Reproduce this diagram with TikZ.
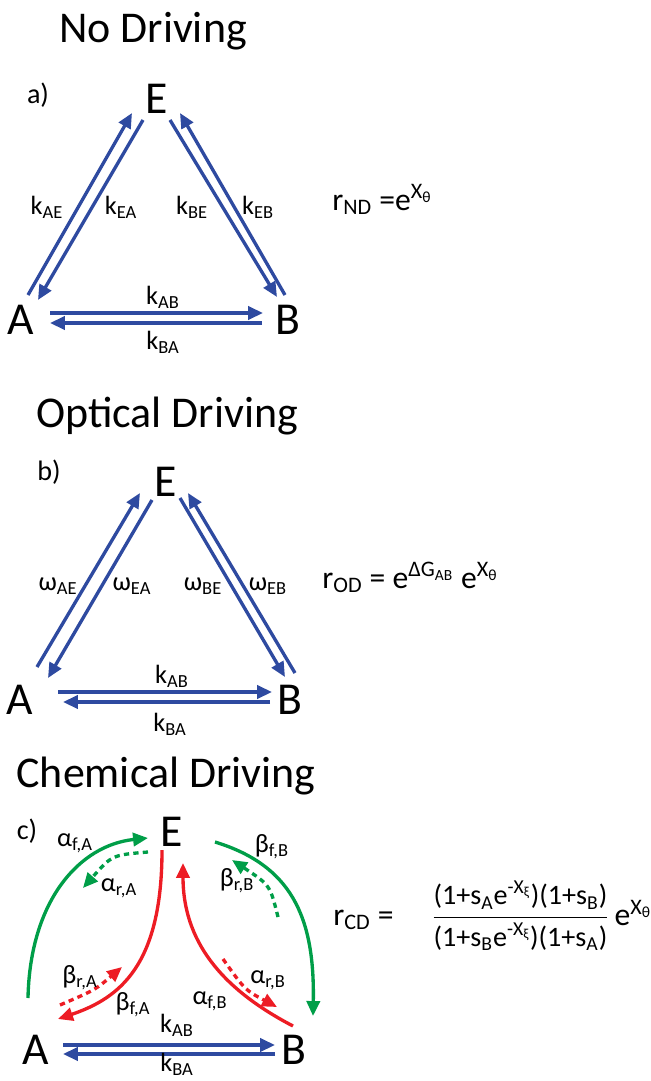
\documentclass[tikz,border=0pt]{standalone}
\usepackage{fontspec}
\setmainfont{Carlito}
\usetikzlibrary{arrows.meta,calc}

\definecolor{rateblue}{RGB}{46,74,160}
\definecolor{drivered}{RGB}{237,28,36}
\definecolor{drivegreen}{RGB}{0,158,72}

\tikzset{
  state/.style = {font=\fontsize{26}{29}\selectfont, inner sep=0pt},
  heading/.style = {font=\fontsize{25}{28}\selectfont, anchor=base},
  panel/.style = {font=\fontsize{16}{18}\selectfont, inner sep=0pt},
  rlabel/.style = {font=\fontsize{15}{17}\selectfont, inner sep=0pt},
  ratio/.style = {font=\fontsize{18}{21}\selectfont, inner sep=0pt},
  rate/.style = {rateblue, line width=1.9pt, -{Triangle[length=8.5pt,width=7.5pt]}},
  fwd/.style = {line width=1.9pt, -{Triangle[length=8.5pt,width=7.5pt]}},
  rev/.style = {fwd, dash pattern=on 3pt off 2.4pt},
}

\begin{document}
\begin{tikzpicture}[x=0.2mm, y=-0.2mm]
    \useasboundingbox (0,0) rectangle (650,1081);

    % a) No driving
    \node[heading] (titleA) at (153,43) {No Driving};
    \node[panel] (pa) at (38,95) {a)};
    \node[state] (A1) at (21,320) {A};
    \node[state] (B1) at (288,320) {B};
    \node[state] (E1) at (157,99) {E};
    % Draw rate arrows
    \draw[rate] ($(A1)+(7,-25)$) -- ($(E1)+(-25,14)$);
    \draw[rate] ($(E1)+(-14,21)$) -- ($(A1)+(17,-20)$);
    \draw[rate] ($(E1)+(13,21)$) -- ($(B1)+(-11,-23)$);
    \draw[rate] ($(B1)+(-3,-25)$) -- ($(E1)+(23,14)$);
    \draw[rate] ($(A1)+(29,-7)$) -- ($(B1)+(-25,-7)$);
    \draw[rate] ($(B1)+(-26,3)$) -- ($(A1)+(29,3)$);
    % rate labels
    \node[rlabel] (kAE1) at (47,207) {k\textsubscript{AE}};
    \node[rlabel] (kEA1) at (121,207) {k\textsubscript{EA}};
    \node[rlabel] (kBE1) at (192,207) {k\textsubscript{BE}};
    \node[rlabel] (kEB1) at (258,207) {k\textsubscript{EB}};
    \node[rlabel] (kAB1) at (163,297) {k\textsubscript{AB}};
    \node[rlabel] (kBA1) at (163,342) {k\textsubscript{BA}};
    \node[ratio, anchor=base west] (rND) at (332,210) {r\textsubscript{ND} =e\textsuperscript{X\textsubscript{θ}}};

    % b) Optical driving
    \node[heading] (titleB) at (167,427) {Optical Driving};
    \node[panel] (pb) at (49,472) {b)};
    \node[state] (A2) at (20,700) {A};
    \node[state] (B2) at (290,700) {B};
    \node[state] (E2) at (166,482) {E};
    % Draw rate arrows
    \draw[rate] ($(A2)+(17,-33)$) -- ($(E2)+(-26,11)$);
    \draw[rate] ($(E2)+(-14,18)$) -- ($(A2)+(28,-22)$);
    \draw[rate] ($(E2)+(14,16)$) -- ($(B2)+(-5,-23)$);
    \draw[rate] ($(B2)+(5,-27)$) -- ($(E2)+(22,11)$);
    \draw[rate] ($(A2)+(38,-8)$) -- ($(B2)+(-18,-8)$);
    \draw[rate] ($(B2)+(-20,2)$) -- ($(A2)+(43,2)$);
    % rate labels
    \node[rlabel] (wAE) at (58,586) {ω\textsubscript{AE}};
    \node[rlabel] (wEA) at (132,586) {ω\textsubscript{EA}};
    \node[rlabel] (wBE) at (203,586) {ω\textsubscript{BE}};
    \node[rlabel] (wEB) at (268,586) {ω\textsubscript{EB}};
    \node[rlabel] (kAB2) at (172,676) {k\textsubscript{AB}};
    \node[rlabel] (kBA2) at (170,724) {k\textsubscript{BA}};
    \node[ratio, anchor=base west] (rOD) at (322,588) {r\textsubscript{OD} = e\textsuperscript{ΔG\textsubscript{AB}} e\textsuperscript{X\textsubscript{θ}}};

    % c) Chemical driving
    \node[heading] (titleC) at (166,787) {Chemical Driving};
    \node[panel] (pc) at (27,831) {c)};
    \node[state] (A3) at (36,1050) {A};
    \node[state] (B3) at (294,1050) {B};
    \node[state] (E3) at (172,832) {E};
    % Draw rate arrows
    \draw[rate] ($(A3)+(27,-5)$) -- ($(B3)+(-19,-5)$);
    \draw[rate] ($(B3)+(-19,4)$) -- ($(A3)+(27,4)$);
    % driven pathways
    \draw[fwd, drivegreen] ($(A3)+(-8,-52)$) .. controls (30,900) and (80,845) .. ($(E3)+(-24,6)$);
    \draw[rev, drivegreen] ($(E3)+(-24,20)$) .. controls (112,855) .. ($(E3)+(-89,56)$);
    \draw[fwd, drivered] ($(E3)+(-10,18)$) .. controls (162,965) and (120,998) .. ($(A3)+(22,-31)$);
    \draw[rev, drivered] ($(A3)+(24,-45)$) .. controls (95,990) .. ($(A3)+(86,-83)$);
    \draw[fwd, drivered] ($(B3)+(-1,-24)$) .. controls (220,988) and (183,940) .. ($(E3)+(11,31)$);
    \draw[rev, drivered] ($(B3)+(-71,-91)$) .. controls (245,990) .. ($(B3)+(-17,-43)$);
    \draw[fwd, drivegreen] ($(E3)+(43,10)$) .. controls (290,865) and (315,915) .. ($(B3)+(19,-34)$);
    \draw[rev, drivegreen] ($(E3)+(106,85)$) .. controls (270,885) .. ($(E3)+(60,28)$);
    % pathway labels
    \node[rlabel] (afA) at (75,843) {α\textsubscript{f,A}};
    \node[rlabel] (arA) at (119,888) {α\textsubscript{r,A}};
    \node[rlabel] (bfB) at (272,847) {β\textsubscript{f,B}};
    \node[rlabel] (brB) at (237,881) {β\textsubscript{r,B}};
    \node[rlabel] (brA) at (80,978) {β\textsubscript{r,A}};
    \node[rlabel] (bfA) at (133,1005) {β\textsubscript{f,A}};
    \node[rlabel] (arB) at (268,980) {α\textsubscript{r,B}};
    \node[rlabel] (afB) at (210,1001) {α\textsubscript{f,B}};
    \node[rlabel] (kAB3) at (177,1025) {k\textsubscript{AB}};
    \node[rlabel] (kBA3) at (177,1064) {k\textsubscript{BA}};
    \node[ratio, anchor=west] (rCD) at (333,916) {r\textsubscript{CD} =\hspace{1.2em}%
      $\displaystyle\frac{\mbox{\fontsize{16}{18}\selectfont(1+s\textsubscript{A}e\textsuperscript{-X\textsubscript{ξ}})(1+s\textsubscript{B})}}{\mbox{\fontsize{16}{18}\selectfont(1+s\textsubscript{B}e\textsuperscript{-X\textsubscript{ξ}})(1+s\textsubscript{A})}}$\,e\textsuperscript{X\textsubscript{θ}}};
\end{tikzpicture}
\end{document}
